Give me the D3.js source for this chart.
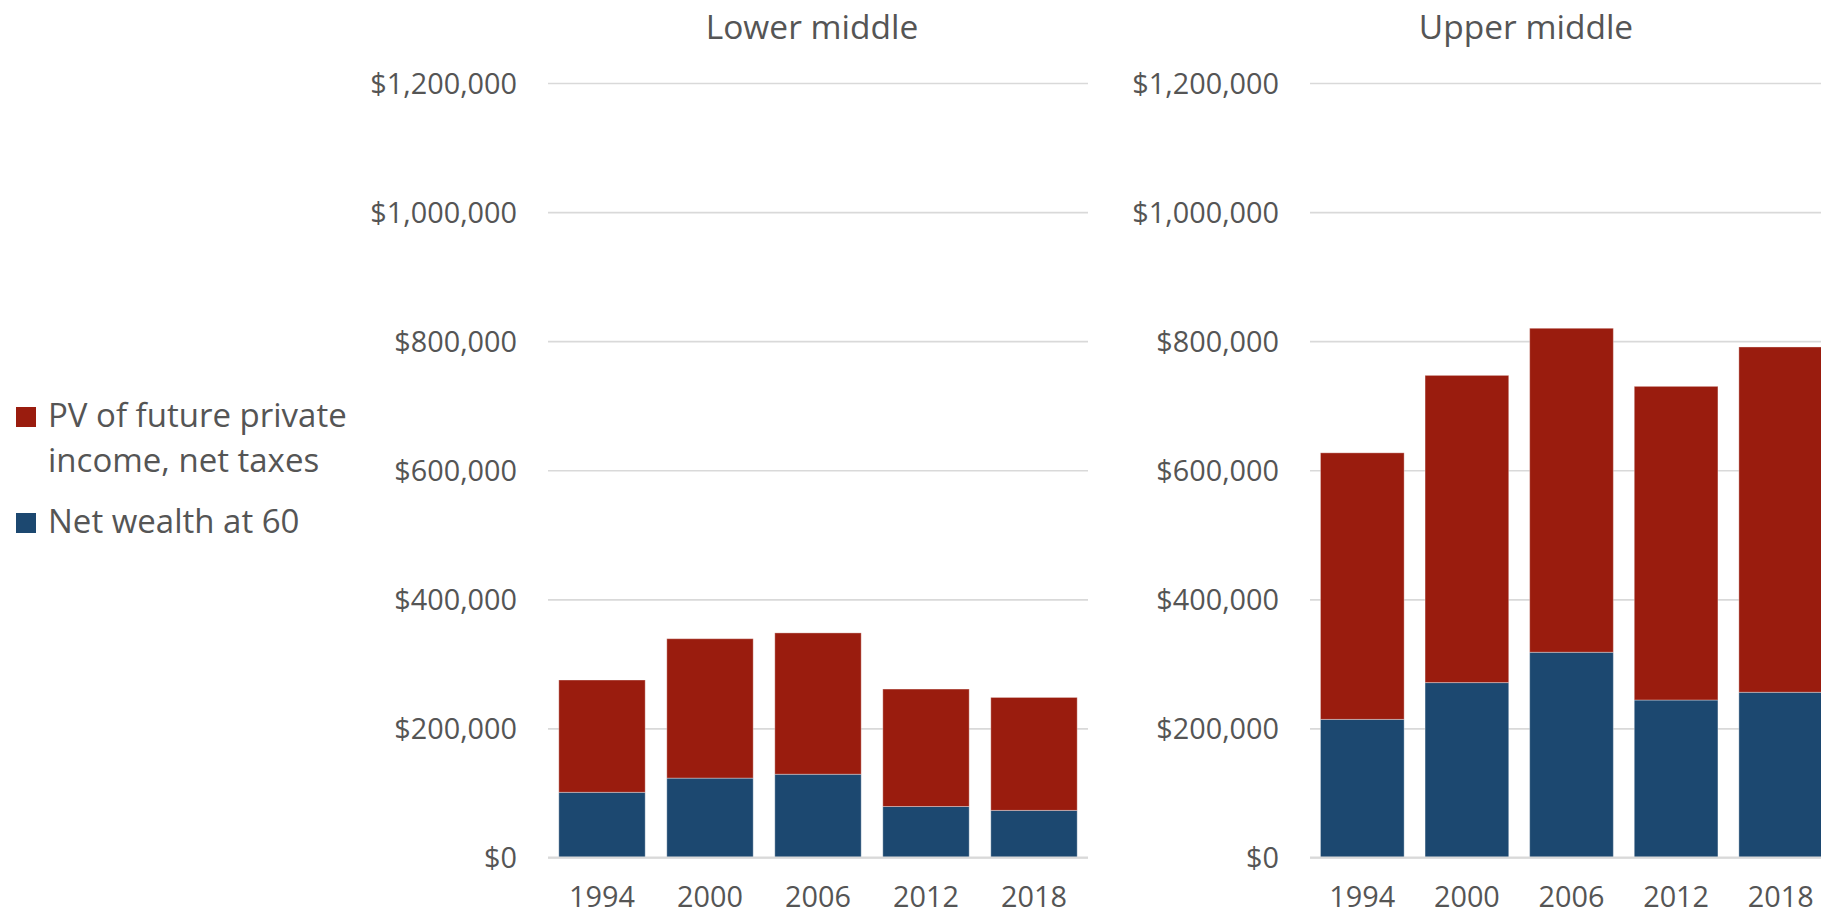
<!DOCTYPE html>
<html>
<head>
<meta charset="utf-8">
<script src="https://cdn.jsdelivr.net/npm/d3@7"></script>
<style>
  html, body { margin: 0; padding: 0; background: #ffffff; }
  svg { display: block; overflow: hidden; }
  text { font-family: "Open Sans", "Noto Sans", sans-serif; fill: #555555; }
</style>
</head>
<body>
<svg id="chart" width="1821" height="913"></svg>
<script>
// Survey years shown on both panels
const years = ["1994", "2000", "2006", "2012", "2018"];

// Lower-middle households
const lowerNetWealth = [101000, 123000, 129000, 79000, 73000];
const lowerFutureIncome = [174000, 216000, 219000, 182000, 175000];

// Upper-middle households
const upperNetWealth = [214000, 271000, 318000, 244000, 256000];
const upperFutureIncome = [413000, 476000, 502000, 486000, 535000];

// Value axis ticks
const yTicks = [0, 200000, 400000, 600000, 800000, 1000000, 1200000];

// Series names (bottom segment first) and colours
const seriesKeys = ["wealth", "income"];
const seriesColors = { wealth: "#1c4870", income: "#9a1c0e" };

const panelTitles = ["Lower middle", "Upper middle"];

// Layout of each small panel
const panels = [
  { title: panelTitles[0], wealth: lowerNetWealth, income: lowerFutureIncome, x0: 548, x1: 1088, titleX: 812 },
  { title: panelTitles[1], wealth: upperNetWealth, income: upperFutureIncome, x0: 1310, x1: 1833, titleX: 1526 }
];

const svg = d3.select("#chart");
const yTop = 83, yBottom = 857.5;
const tickFont = 28.8;

const y = d3.scaleLinear().domain([0, 1200000]).range([yBottom, yTop]);
const moneyFmt = d3.format("$,");

panels.forEach(p => {
  const g = svg.append("g");
  const x = d3.scaleBand().domain(years).range([p.x0, p.x1])
    .paddingInner(0.2).paddingOuter(0.1);

  // Gridlines
  const grid = g.append("g")
    .attr("transform", `translate(${p.x0},0)`)
    .call(d3.axisLeft(y).tickValues(yTicks).tickSize(-(p.x1 - p.x0)).tickFormat(""));
  grid.select(".domain").remove();
  grid.selectAll("line").attr("stroke", "#d9d9d9").attr("stroke-width", 1.6);

  // Value labels
  const yAxis = g.append("g")
    .attr("transform", `translate(${p.x0},0)`)
    .call(d3.axisLeft(y).tickValues(yTicks).tickSize(0).tickPadding(31).tickFormat(moneyFmt));
  yAxis.select(".domain").remove();
  yAxis.selectAll("text")
    .attr("font-family", "Open Sans, sans-serif")
    .attr("font-size", tickFont)
    .attr("fill", "#555555")
    .attr("dy", "0.35em");

  // Stacked bars
  const rows = years.map((yr, i) => ({ year: yr, wealth: p.wealth[i], income: p.income[i] }));
  const stacked = d3.stack().keys(seriesKeys)(rows);
  g.append("g").selectAll("g")
    .data(stacked)
    .join("g")
      .attr("fill", d => seriesColors[d.key])
    .selectAll("rect")
    .data(d => d)
    .join("rect")
      .attr("x", d => x(d.data.year))
      .attr("width", x.bandwidth())
      .attr("y", d => y(d[1]))
      .attr("height", d => y(d[0]) - y(d[1]))
      .attr("stroke", "rgba(255,255,255,0.35)")
      .attr("stroke-width", 1);

  // Baseline drawn over bar bottoms
  g.append("line")
    .attr("x1", p.x0).attr("x2", p.x1)
    .attr("y1", y(0)).attr("y2", y(0))
    .attr("stroke", "#d9d9d9").attr("stroke-width", 1.8);

  // Category labels
  const xAxis = g.append("g")
    .attr("transform", `translate(0,${yBottom})`)
    .call(d3.axisBottom(x).tickSize(0).tickPadding(0));
  xAxis.select(".domain").remove();
  xAxis.selectAll("text")
    .attr("font-family", "Open Sans, sans-serif")
    .attr("font-size", tickFont)
    .attr("fill", "#555555")
    .attr("y", 39.5)
    .attr("dy", "0.35em");

  // Panel title
  g.append("text")
    .attr("x", p.titleX).attr("y", 27)
    .attr("dy", "0.35em")
    .attr("text-anchor", "middle")
    .attr("font-size", 33.5)
    .text(p.title);
});

// Legend (upper series first)
const legend = svg.append("g");
const legendItems = [
  { key: "income", lines: ["PV of future private", "income, net taxes"], boxY: 407, baseY: 427 },
  { key: "wealth", lines: ["Net wealth at 60"], boxY: 513, baseY: 533 }
];
legendItems.forEach(item => {
  legend.append("rect")
    .attr("x", 16).attr("y", item.boxY)
    .attr("width", 20).attr("height", 20)
    .attr("fill", seriesColors[item.key]);
  const t = legend.append("text")
    .attr("x", 48).attr("y", item.baseY)
    .attr("font-size", 33);
  item.lines.forEach((ln, i) => {
    t.append("tspan").attr("x", 48).attr("dy", i === 0 ? 0 : 45).text(ln);
  });
});
</script>
</body>
</html>
